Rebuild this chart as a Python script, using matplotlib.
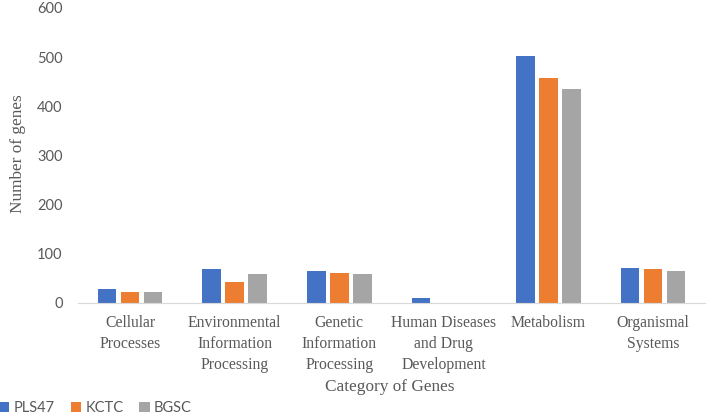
import numpy as np
import matplotlib.pyplot as plt

# Dati
categorie = ['Cellular\nProcesses', 'Environmental\nInformation\nProcessing',
             'Genetic\nInformation\nProcessing', 'Human Diseases\nand Drug\nDevelopment',
             'Metabolism', 'Organismal\nSystems']
pls47 = [28, 69, 65, 10, 502, 71]
kctc = [22, 43, 61, 0, 458, 70]
bgsc = [22, 59, 59, 0, 435, 65]
serie = ['PLS47', 'KCTC', 'BGSC']
colori = ['#4472C4', '#ED7D31', '#A5A5A5']

fig = plt.figure(figsize=(7.08, 4.15), dpi=100)
ax = fig.add_axes([0.110, 0.270, 0.886, 0.711])

x = np.arange(len(categorie))
w = 0.177
passo = 0.22
for k, (valori, nome, c) in enumerate(zip([pls47, kctc, bgsc], serie, colori)):
    ax.bar(x + (k - 1) * passo, valori, w, color=c, label=nome)

ax.set_xlim(-0.5, len(categorie) - 0.5)
ax.set_ylim(0, 600)
ax.set_yticks(np.arange(0, 601, 100))
for s in ['top', 'right', 'left']:
    ax.spines[s].set_visible(False)
ax.spines['bottom'].set_color('#D9D9D9')
ax.tick_params(axis='both', length=0)
ax.tick_params(axis='y', labelsize=10.5, labelcolor='#595959', pad=11)
for t in ax.get_yticklabels():
    t.set_family('Lato')
ax.set_xticks(x)
ax.set_xticklabels(categorie, family='Liberation Serif', fontsize=11.3, color='#595959',
                   linespacing=1.38)
ax.tick_params(axis='x', pad=9)

# Etichette degli assi
fig.text(0.026, 0.629, 'Number of genes', family='Liberation Serif', fontsize=12.4,
         color='#595959', rotation=90, ha='center', va='center')
fig.text(0.551, 0.058, 'Category of Genes', family='Liberation Serif', fontsize=12.4,
         color='#595959', ha='center', va='baseline')

leg = fig.legend(loc='lower left', bbox_to_anchor=(-0.02, -0.032), ncol=3, frameon=False,
                 handlelength=0.7, handleheight=0.7, handletextpad=0.3, columnspacing=1.1,
                 prop={'family': 'Lato', 'size': 10.5})
for t in leg.get_texts():
    t.set_color('#595959')

plt.savefig('out.png')
